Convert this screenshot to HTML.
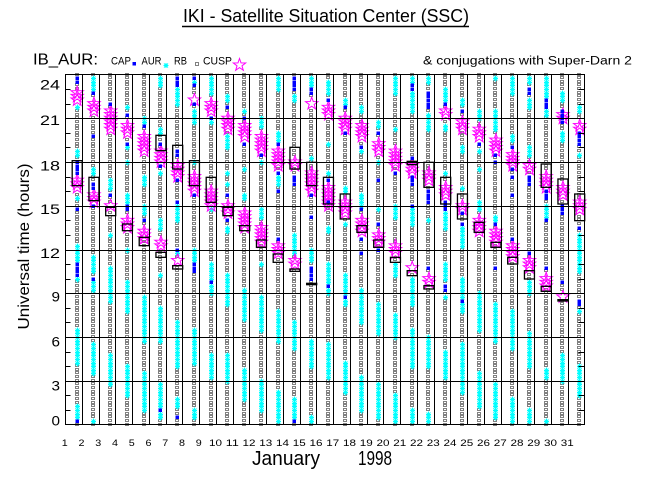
<!DOCTYPE html>
<html><head><meta charset="utf-8">
<style>
html,body{margin:0;padding:0;background:#fff;}
svg{display:block;}
text{font-family:"Liberation Sans",sans-serif;fill:#000;}
</style></head>
<body>
<svg id="c" width="650" height="500" viewBox="0 0 650 500" xmlns="http://www.w3.org/2000/svg">
<rect width="650" height="500" fill="#fff"/>
<g id="marks"></g>
<g id="grid" stroke="#000" stroke-width="1" fill="none" shape-rendering="crispEdges"></g>
<g id="boxes" stroke="#000" stroke-width="1.3" fill="none"></g>

<!-- Title -->
<text x="326" y="22" font-size="18" text-anchor="middle" textLength="286" lengthAdjust="spacingAndGlyphs">IKI - Satellite Situation Center (SSC)</text>
<line x1="182" y1="26.5" x2="469" y2="26.5" stroke="#000" stroke-width="1.4"/>

<!-- Header legend -->
<text x="33" y="64.5" font-size="16" textLength="65" lengthAdjust="spacingAndGlyphs">IB_AUR:</text>
<text x="111" y="64.5" font-size="11" textLength="20" lengthAdjust="spacingAndGlyphs">CAP</text>
<rect x="132.5" y="62" width="3.5" height="3.5" fill="#0000ff"/>
<text x="141.5" y="64.5" font-size="11" textLength="20" lengthAdjust="spacingAndGlyphs">AUR</text>
<path d="M163.5 65.5h5M166 63v5M164 63.5l4 4M164 67.5l4 -4" stroke="#00ffff" stroke-width="1" fill="none"/>
<text x="174" y="64.5" font-size="11" textLength="13" lengthAdjust="spacingAndGlyphs">RB</text>
<rect x="195.5" y="62.5" width="3" height="3" stroke="#808080" stroke-width="1" fill="none"/>
<text x="203" y="64.5" font-size="11" textLength="29" lengthAdjust="spacingAndGlyphs">CUSP</text>
<path id="legstar" stroke="#ff00ff" stroke-width="1" fill="none"/>
<text x="423" y="64.5" font-size="11.5" textLength="209" lengthAdjust="spacingAndGlyphs">&amp; conjugations with Super-Darn 2</text>

<!-- Y labels -->
<text x="60" y="89.5" font-size="14" text-anchor="end" textLength="20" lengthAdjust="spacingAndGlyphs">24</text>
<text x="60" y="125" font-size="14" text-anchor="end" textLength="20" lengthAdjust="spacingAndGlyphs">21</text>
<text x="60" y="170.5" font-size="14" text-anchor="end" textLength="20" lengthAdjust="spacingAndGlyphs">18</text>
<text x="60" y="214" font-size="14" text-anchor="end" textLength="20" lengthAdjust="spacingAndGlyphs">15</text>
<text x="60" y="258" font-size="14" text-anchor="end" textLength="20" lengthAdjust="spacingAndGlyphs">12</text>
<text x="60" y="301.5" font-size="14" text-anchor="end" textLength="8.5" lengthAdjust="spacingAndGlyphs">9</text>
<text x="60" y="346.5" font-size="14" text-anchor="end" textLength="8.5" lengthAdjust="spacingAndGlyphs">6</text>
<text x="60" y="390.5" font-size="14" text-anchor="end" textLength="8.5" lengthAdjust="spacingAndGlyphs">3</text>
<text x="60" y="425.5" font-size="14" text-anchor="end" textLength="8.5" lengthAdjust="spacingAndGlyphs">0</text>

<!-- Y title -->
<text transform="translate(29,246.5) rotate(-90)" x="0" y="0" font-size="16" text-anchor="middle" textLength="166" lengthAdjust="spacingAndGlyphs">Universal time (hours)</text>

<!-- X labels -->
<g id="xl" font-size="9.5"></g>
<text x="252" y="465" font-size="20" textLength="68" lengthAdjust="spacingAndGlyphs">January</text>
<text x="358" y="465" font-size="20" textLength="34" lengthAdjust="spacingAndGlyphs">1998</text>
</svg>

<script>
(function(){
const L=65, CW=16.75, T=74.5, B=424.5, HP=(B-T)/24;
function yh(h){return B-h*HP;}
function zy2y(z){return 74+z/3;}
function starPath(cx,cy){
  let d='';
  for(let i=0;i<10;i++){
    const r=(i%2)?2.6:6.5;
    const a=-Math.PI/2+i*Math.PI/5;
    d+=(i?'L':'M')+(cx+r*Math.cos(a)).toFixed(2)+' '+(cy+r*Math.sin(a)).toFixed(2);
  }
  return d+'Z';
}
document.getElementById('legstar').setAttribute('d',starPath(239.5,65));

const cols=[
["B10-30 M40-95 C100 C230-250 B260-300 M300-365 C370 B408 C510-560 B565-605 C615 C765-870 C990-1030 B1035-1045",[[260,335]]],
["C10-50 B60 M70-130 B190 C275-300 B320-345 M340-400 B395 C545-600 B605-615 C620-650 C805-900 C1030-1045",[[310,380]]],
["B90 M95-185 C315-350 B365 M380-420 C485 C580-690 C840-940",[[400,425]]],
["C90-110 B120 M130-200 B205 C210-225 C265 C360-385 B395-410 M420-485 C525 C620-720 C875-970",[[450,470]]],
["C130-145 B160 M170-250 C300-330 C390-420 B440 M450-510 C660-800 C895-1010",[[490,515]]],
["C10-40 C160-180 B205 M215-285 B280 C290-300 C430-470 M480-540 C600 C700-800 C930-1040 B1005",[[184,230],[535,550]]],
["B10-40 C45-90 B230 B245 M255-330 B322 B380 C390-440 B525 C530-540 M545-580 C745-880 C970-1000 B1020-1040",[[214,285],[575,585]]],
["C10-30 B15 B30 M55-100 B85 C110-150 C255-265 M285-370 B360 C520-600 B560-600 C765-870 C1000-1040",[[260,335]]],
["C10-60 M70-135 B130 C140-150 M330-410 C410 C570-665 B630 C835-920",[[310,385]]],
["C60-80 B100 M110-180 C185-230 C290-300 C320-340 B365 M375-440 B435 C460-480 C600-700 C840-930",[[400,425]]],
["C100-115 B130 M140-210 B205 C275-290 C360-380 M400-480 C640-740 C880-980",[[455,470]]],
["C125-160 M170-250 B245 C260 C400-430 M445-520 C570 C665-770 C915-1010",[[498,520]]],
["C10-50 C175-200 B205 M210-290 B293 C300-330 B350 B495 M500-560 C710-810 C945-1045",[[540,565]]],
["B10-50 C60-80 M240-290 B300-330 C480-540 M545-590 C740-830 C965-1030 B1040",[[220,285],[585,592]]],
["C10-60 B45 B60 M65-110 C245-260 M280-370 B365 B425 C520-560 B580-615 C790-880 C1020-1045",[[265,335],[628,632]]],
["C20-60 B75 M80-140 C200-215 C290-300 M320-410 B320 B380 C460-475 C570-660 B625-645 C810-920",[[310,390]]],
["C75-90 B105 M110-180 B175 C335-360 M370-440 C445-460 C600-700 B670 C855-960",[[360,435]]],
["C95-120 M140-210 B215 B222 C230 C360-400 B410 M415-490 B495 B540 C640-750 C905-1010",[[455,475]]],
["C140-165 B175 M185-250 C255-270 B320 C410 B450 M460-520 B522 C680-780 C930-1040",[[498,520]]],
["C10-60 C170 M210-290 B295 C390-430 M500-560 C570-610 C720-790 C960-1045",[[550,565]]],
["C10-120 B30 B50 B245-255 M260-320 B300-340 B395 C400-450 M560-600 C610-700 C760-880 C1000-1045",[[262,272],[590,605]]],
["C10-30 B50-110 C120-175 M280-340 B345-385 C435-445 B585 M590-640 C785-880 C1010-1045",[[265,340],[635,645]]],
["C40-80 B90 M95-140 C150-170 C290-300 M320-380 B380-410 C415-470 C570-620 B625-655 C665 C830-920",[[310,390]]],
["C70-90 B115 M125-180 C215-240 C330-345 M375-430 B420 B455 C460-520 C610-720 B685 C810-960",[[360,435]]],
["C110-140 M150-205 B205-215 C225-240 C290 C380-410 M420-490 C650-770 C890-1000",[[445,475]]],
["C10-20 C110-170 M180-250 B245 B265 C420-440 B450 M455-520 B585 C685-800 C930-1030",[[505,520]]],
["C10-60 C180-200 B215 M225-290 B290 B305 B365 B495 M500-570 C710-830 C965-1045",[[550,570]]],
["C10-30 B40-60 C70-100 C220-250 M260-300 B305-330 B540 M545-600 C620-660 C775-880 C1005-1045",[[590,615]]],
["C10-130 B75-105 M290-360 B350-380 C390-430 B435 B580 M590-650 C880-920 C1030-1045",[[270,340],[637,652]]],
["C55-80 B100-145 M100-150 C175-205 M320-380 B385-425 B630 M650-680 C840-925",[[315,390],[677,681]]],
["C90-120 M130-180 B175-210 C240 M370-430 B450-470 C480-600 B670-700 C710-720 C870-970",[[360,440]]]
];

const N=97;
const ys=[],zs=[];
for(let k=0;k<N;k++){const y=B-k*(HP/4);ys.push(y);zs.push((y-74)*3);}
function stepsIn(a,b){
  const r=[];
  for(let k=0;k<N;k++){if(zs[k]>=a-0.01&&zs[k]<=b+0.01)r.push(k);}
  if(!r.length){
    const mid=(a+b)/2;let best=0,bd=1e9;
    for(let k=0;k<N;k++){const d=Math.abs(zs[k]-mid);if(d<bd){bd=d;best=k;}}
    r.push(best);
  }
  return r;
}

let sq='',cy='',bl='',st='',bx='';
cols.forEach((col,ci)=>{
  const cx=76.7+CW*ci;
  const cxi=Math.round(cx);
  const base=new Array(N).fill('S');
  const star=new Array(N).fill(false);
  const toks=col[0].split(/\s+/).filter(Boolean).map(t=>{
    const ty=t[0];const nums=t.slice(1).split('-').map(Number);
    return {ty:ty,a:nums[0],b:(nums.length>1?nums[1]:nums[0])};
  });
  toks.filter(t=>t.ty==='C').forEach(t=>{stepsIn(t.a,t.b).forEach(k=>base[k]='C');});
  toks.filter(t=>t.ty==='M').forEach(t=>{
    const a=t.a,b=t.b;
    for(let k=0;k<N;k++){if(zs[k]>=a+6&&zs[k]<=b-6)base[k]='N';}
    let lo=a+14,hi=b-14;
    if(hi<lo){lo=hi=(a+b)/2;}
    stepsIn(lo,hi).forEach(k=>{star[k]=true;base[k]='N';});
  });
  toks.filter(t=>t.ty==='B').forEach(t=>{stepsIn(t.a,t.b).forEach(k=>base[k]='B');});
  for(let k=0;k<N;k++){
    const Y=Math.round(ys[k]);
    if(base[k]==='S'){
      sq+=`M${cxi-1.5} ${Y-1.5}h3v2h-3z`;
    }else if(base[k]==='C'){
      const x=cxi+0.5,y=Y+0.5;
      cy+=`M${x-2.5} ${y}h5M${x} ${y-3}v6M${x-2} ${y-2}l4 4M${x-2} ${y+2}l4 -4`;
    }else if(base[k]==='B'){
      bl+=`M${cxi-1.5} ${Y-1.5}h3.5v3.5h-3.5z`;
    }
  }
  for(let k=0;k<N;k++){ if(star[k]) st+=starPath(cx+0.5,ys[k]); }
  col[1].forEach(bb=>{
    const y1=zy2y(bb[0]),y2=zy2y(bb[1]);
    bx+=`<rect x="${(cx-4.5).toFixed(2)}" y="${y1.toFixed(2)}" width="10" height="${Math.max(1,(y2-y1)).toFixed(2)}"/>`;
  });
});
// draw stars before blue so blue dots remain visible
document.getElementById('marks').innerHTML=
 `<path d="${sq}" stroke="#808080" stroke-width="1" fill="none" shape-rendering="crispEdges"/>`+
 `<path d="${cy}" stroke="#00ffff" stroke-width="1" fill="none"/>`+
 `<path d="${st}" stroke="#ff00ff" stroke-width="1" fill="none"/>`+
 `<path d="${bl}" fill="#0000ff" stroke="none"/>`;
document.getElementById('boxes').innerHTML=bx;

// grid
let g='';
for(let k=1;k<31;k++){const x=Math.round(L+CW*k)+0.5;g+=`<line x1="${x}" y1="${T}" x2="${x}" y2="${B}"/>`;}
for(let h=3;h<24;h+=3){const y=Math.round(yh(h))+0.5;g+=`<line x1="65.5" y1="${y}" x2="584.5" y2="${y}"/>`;}
for(let h=1;h<24;h++){
  if(h%3===0)continue;
  const y=Math.round(yh(h))+0.5;
  g+=`<line x1="65.5" y1="${y}" x2="70.5" y2="${y}"/>`;
  g+=`<line x1="578.5" y1="${y}" x2="584.5" y2="${y}"/>`;
}
g+=`<rect x="65.5" y="74.5" width="519" height="350"/>`;
document.getElementById('grid').innerHTML=g;

// x labels
let xl='';
for(let d=1;d<=31;d++){
  const x=65.3+CW*(d-1)-0.5;
  const tl=d<10?6:13;
  xl+=`<text x="${x.toFixed(2)}" y="446" text-anchor="middle" textLength="${tl}" lengthAdjust="spacingAndGlyphs">${d}</text>`;
}
document.getElementById('xl').innerHTML=xl;
})();
</script>
</body></html>
